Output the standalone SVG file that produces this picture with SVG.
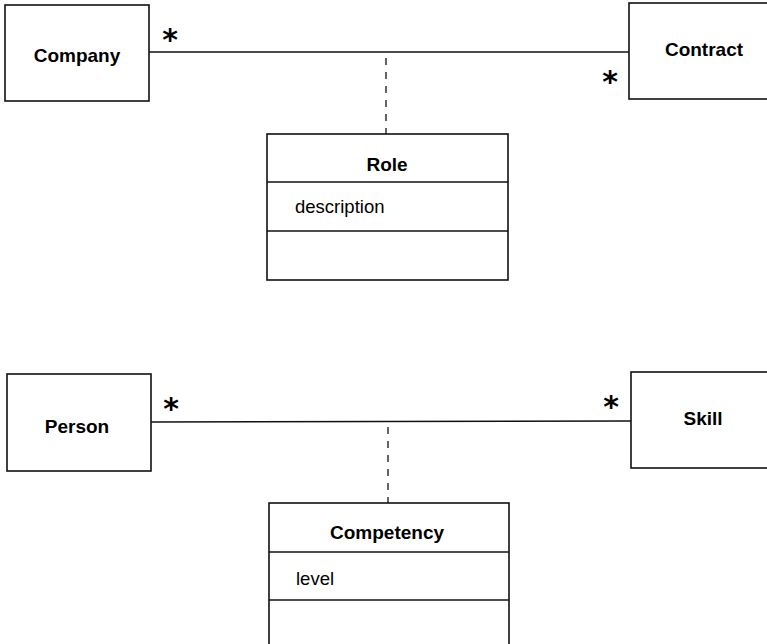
<svg xmlns="http://www.w3.org/2000/svg" width="767" height="644" viewBox="0 0 767 644">
<style>
.box{fill:#fff;stroke:#111;stroke-width:1.6}
.div{stroke:#111;stroke-width:1.4}
.name{font-family:"Liberation Sans",Arial,sans-serif;font-weight:bold;font-size:19px;fill:#000;text-anchor:middle}
.attr{font-family:"Liberation Sans",Arial,sans-serif;font-size:18.5px;fill:#000}
.mult{font-family:"DejaVu Sans",sans-serif;font-weight:bold;font-size:30px;fill:#000;text-anchor:middle}
.assoc{stroke:#111;stroke-width:1.5;fill:none}
.dash{stroke:#111;stroke-width:1.3;fill:none;stroke-dasharray:7 7}
</style>
<rect width="767" height="644" fill="#fff"/>
<g id="connectors">
<line class="assoc" x1="149" y1="52" x2="629" y2="52"/>
<line class="dash" x1="386" y1="58" x2="386" y2="134"/>
<line class="assoc" x1="151" y1="422" x2="631" y2="421"/>
<line class="dash" x1="388" y1="427" x2="388" y2="503"/>
<text class="mult" x="170" y="50">*</text>
<text class="mult" x="610" y="92">*</text>
<text class="mult" x="171" y="419">*</text>
<text class="mult" x="611" y="417">*</text>
</g>
<g id="company">
<rect class="box" x="5" y="5" width="144" height="96"/>
<text class="name" x="77" y="62">Company</text>
</g>
<g id="contract">
<rect class="box" x="629" y="3" width="150" height="96"/>
<text class="name" x="704" y="56">Contract</text>
</g>
<g id="role">
<rect class="box" x="267" y="134" width="241" height="146"/>
<line class="div" x1="267" y1="182" x2="508" y2="182"/>
<line class="div" x1="267" y1="231" x2="508" y2="231"/>
<text class="name" x="387" y="171">Role</text>
<text class="attr" x="295" y="213">description</text>
</g>
<g id="person">
<rect class="box" x="7" y="374" width="144" height="97"/>
<text class="name" x="77" y="433">Person</text>
</g>
<g id="skill">
<rect class="box" x="631" y="372" width="150" height="96"/>
<text class="name" x="703" y="425">Skill</text>
</g>
<g id="competency">
<rect class="box" x="269" y="503" width="240" height="160"/>
<line class="div" x1="269" y1="552" x2="509" y2="552"/>
<line class="div" x1="269" y1="600" x2="509" y2="600"/>
<text class="name" x="387" y="539">Competency</text>
<text class="attr" x="296" y="585">level</text>
</g>
</svg>
